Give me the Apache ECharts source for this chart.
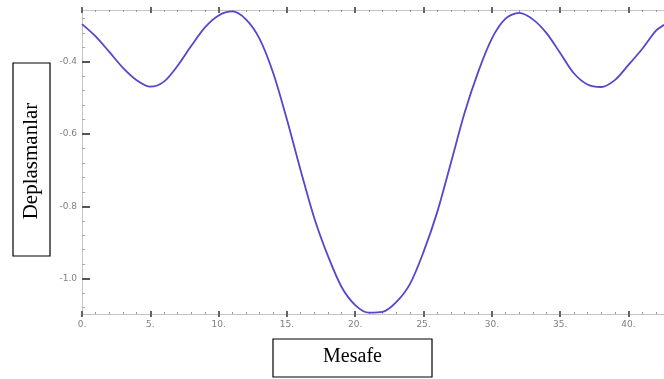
<!DOCTYPE html>
<html>
<head>
<meta charset="utf-8">
<script src="https://cdn.jsdelivr.net/npm/echarts@6/dist/echarts.min.js"></script>
<style>html,body{margin:0;padding:0;background:#fff;}#c{width:664px;height:379px;}</style>
</head>
<body>
<div id="c"></div>
<script>
const distances = [0,1,2,3,4,5,6,7,8,9,10,11,12,13,14,15,16,17,18,19,20,21,22,23,24,25,26,27,28,29,30,31,32,33,34,35,36,37,38,39,40,41,42,42.6];
const displacements = [-0.296,-0.330,-0.373,-0.417,-0.451,-0.469,-0.455,-0.411,-0.356,-0.305,-0.272,-0.261,-0.283,-0.337,-0.432,-0.560,-0.700,-0.832,-0.937,-1.023,-1.073,-1.094,-1.092,-1.065,-1.015,-0.926,-0.816,-0.680,-0.542,-0.428,-0.336,-0.281,-0.265,-0.283,-0.321,-0.376,-0.432,-0.463,-0.470,-0.451,-0.409,-0.365,-0.315,-0.298];
const xMajorTicks = [0,5,10,15,20,25,30,35,40];
const xMinorTicks = [1,2,3,4,6,7,8,9,11,12,13,14,16,17,18,19,21,22,23,24,26,27,28,29,31,32,33,34,36,37,38,39,41,42];
const yMajorTicks = [-1.0,-0.8,-0.6,-0.4];
const yMinorTicks = [-1.08,-1.04,-0.96,-0.92,-0.88,-0.84,-0.76,-0.72,-0.68,-0.64,-0.56,-0.52,-0.48,-0.44,-0.36,-0.32,-0.28];
const xTitle = 'Mesafe';
const yTitle = 'Deplasmanlar';

const xMin = 0, xMax = 42.6, yMin = -1.0977, yMax = -0.257;
const chart = echarts.init(document.getElementById('c'), null, {renderer:'canvas'});
const lblStyle = {fontSize: 9, color: '#808080', fontFamily: 'DejaVu Sans'};
function xAx(pos, tickVals, inside, len, w, col, labels, line) {
  return {
    type:'value', position: pos, min: xMin, max: xMax,
    axisLine: {show: line, lineStyle: {color:'#c4c4c4', width:1}},
    axisTick: {show:true, customValues: tickVals, inside: inside, length: len, lineStyle:{color: col, width: w}},
    axisLabel: labels ? Object.assign({show:true, customValues: xMajorTicks, margin: 6, formatter: v => v + '.'}, lblStyle) : {show:false},
    splitLine: {show:false}
  };
}
function yAx(tickVals, len, w, col, labels, line) {
  return {
    type:'value', position:'left', min: yMin, max: yMax,
    axisLine: {show: line, lineStyle: {color:'#c4c4c4', width:1}},
    axisTick: {show:true, customValues: tickVals, inside: true, length: len, lineStyle:{color: col, width: w}},
    axisLabel: labels ? Object.assign({show:true, customValues: yMajorTicks, margin: 5, formatter: v => v.toFixed(1)}, lblStyle) : {show:false},
    splitLine: {show:false}
  };
}
chart.setOption({
  animation: false,
  backgroundColor: '#ffffff',
  grid: {left: 82, right: 0, top: 10, bottom: 65, containLabel: false},
  xAxis: [
    xAx('bottom', xMajorTicks, true, 3, 2, '#666', true, true),
    xAx('bottom', xMajorTicks, false, 3, 2, '#666', false, false),
    xAx('bottom', xMinorTicks, true, 2, 1, '#999', false, false),
    xAx('top', xMajorTicks, true, 3, 2, '#666', false, true),
    xAx('top', xMajorTicks, false, 3, 2, '#666', false, false),
    xAx('top', xMinorTicks, true, 2, 1, '#999', false, false)
  ],
  yAxis: [
    yAx(yMajorTicks, 8, 2, '#555', true, true),
    yAx(yMinorTicks, 3, 1, '#aaa', false, false)
  ],
  series: [{
    type:'line', xAxisIndex:0, yAxisIndex:0,
    data: distances.map((d,i)=>[d, displacements[i]]),
    smooth: 0.3, showSymbol:false,
    lineStyle:{color:'#5646cf', width:1.8},
    clip: true
  }],
  graphic: [
    {type:'rect', shape:{x:13, y:63, width:37, height:193}, style:{fill:'#fff', stroke:'#000', lineWidth:1.2}},
    {type:'text', x:31, y:161, rotation: Math.PI/2, style:{text: yTitle, font:'21px "Liberation Serif"', fill:'#000', align:'center', verticalAlign:'middle'}},
    {type:'rect', shape:{x:273, y:339, width:159, height:38}, style:{fill:'#fff', stroke:'#000', lineWidth:1.2}},
    {type:'text', x:352.5, y:357, style:{text: xTitle, font:'20px "Liberation Serif"', fill:'#000', align:'center', verticalAlign:'middle'}}
  ]
});
</script>
</body>
</html>
